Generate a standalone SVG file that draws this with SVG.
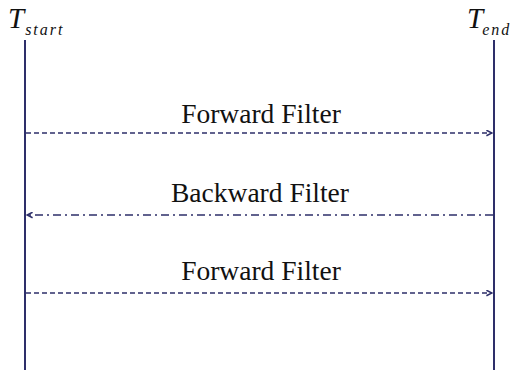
<svg xmlns="http://www.w3.org/2000/svg" width="514" height="373" viewBox="0 0 514 373">
  <style>
    .life { stroke: #2e2f6a; stroke-width: 2; fill: none; }
    .fwd { stroke: #2e2f6a; stroke-width: 1.5; stroke-dasharray: 5 3; fill: none; }
    .bwd { stroke: #2e2f6a; stroke-width: 1.5; stroke-dasharray: 8 4 2 4; fill: none; }
    .lbl { font-family: "Liberation Serif", "Times New Roman", serif; font-size: 27.5px; fill: #111; text-anchor: middle; }
    .tsym { font-family: "Liberation Serif", "Times New Roman", serif; font-style: italic; font-size: 29px; fill: #111; }
    .tsub { font-size: 16px; letter-spacing: 2px; }
  </style>
  <defs>
    <marker id="arrow" viewBox="0 0 10 10" refX="9" refY="5" markerWidth="7" markerHeight="7" markerUnits="userSpaceOnUse" orient="auto">
      <path d="M1,1 L9,5 L1,9" fill="none" stroke="#2e2f6a" stroke-width="2.2"/>
    </marker>
  </defs>

  <g id="t-start">
    <text class="tsym" x="8" y="28">T<tspan class="tsub" dx="1" dy="7">start</tspan></text>
    <line class="life" x1="25" y1="40" x2="25" y2="370"/>
  </g>

  <g id="t-end">
    <text class="tsym" x="467" y="28">T<tspan class="tsub" dx="-1" dy="7">end</tspan></text>
    <line class="life" x1="494" y1="40" x2="494" y2="370"/>
  </g>

  <g id="connectors">
    <line class="fwd" x1="26" y1="133" x2="492" y2="133" marker-end="url(#arrow)"/>
    <line class="bwd" x1="493" y1="215" x2="27" y2="215" marker-end="url(#arrow)"/>
    <line class="fwd" x1="26" y1="293" x2="492" y2="293" marker-end="url(#arrow)"/>
  </g>

  <g id="labels">
    <text class="lbl" x="261" y="123">Forward Filter</text>
    <text class="lbl" x="260" y="202">Backward Filter</text>
    <text class="lbl" x="261" y="280">Forward Filter</text>
  </g>
</svg>
